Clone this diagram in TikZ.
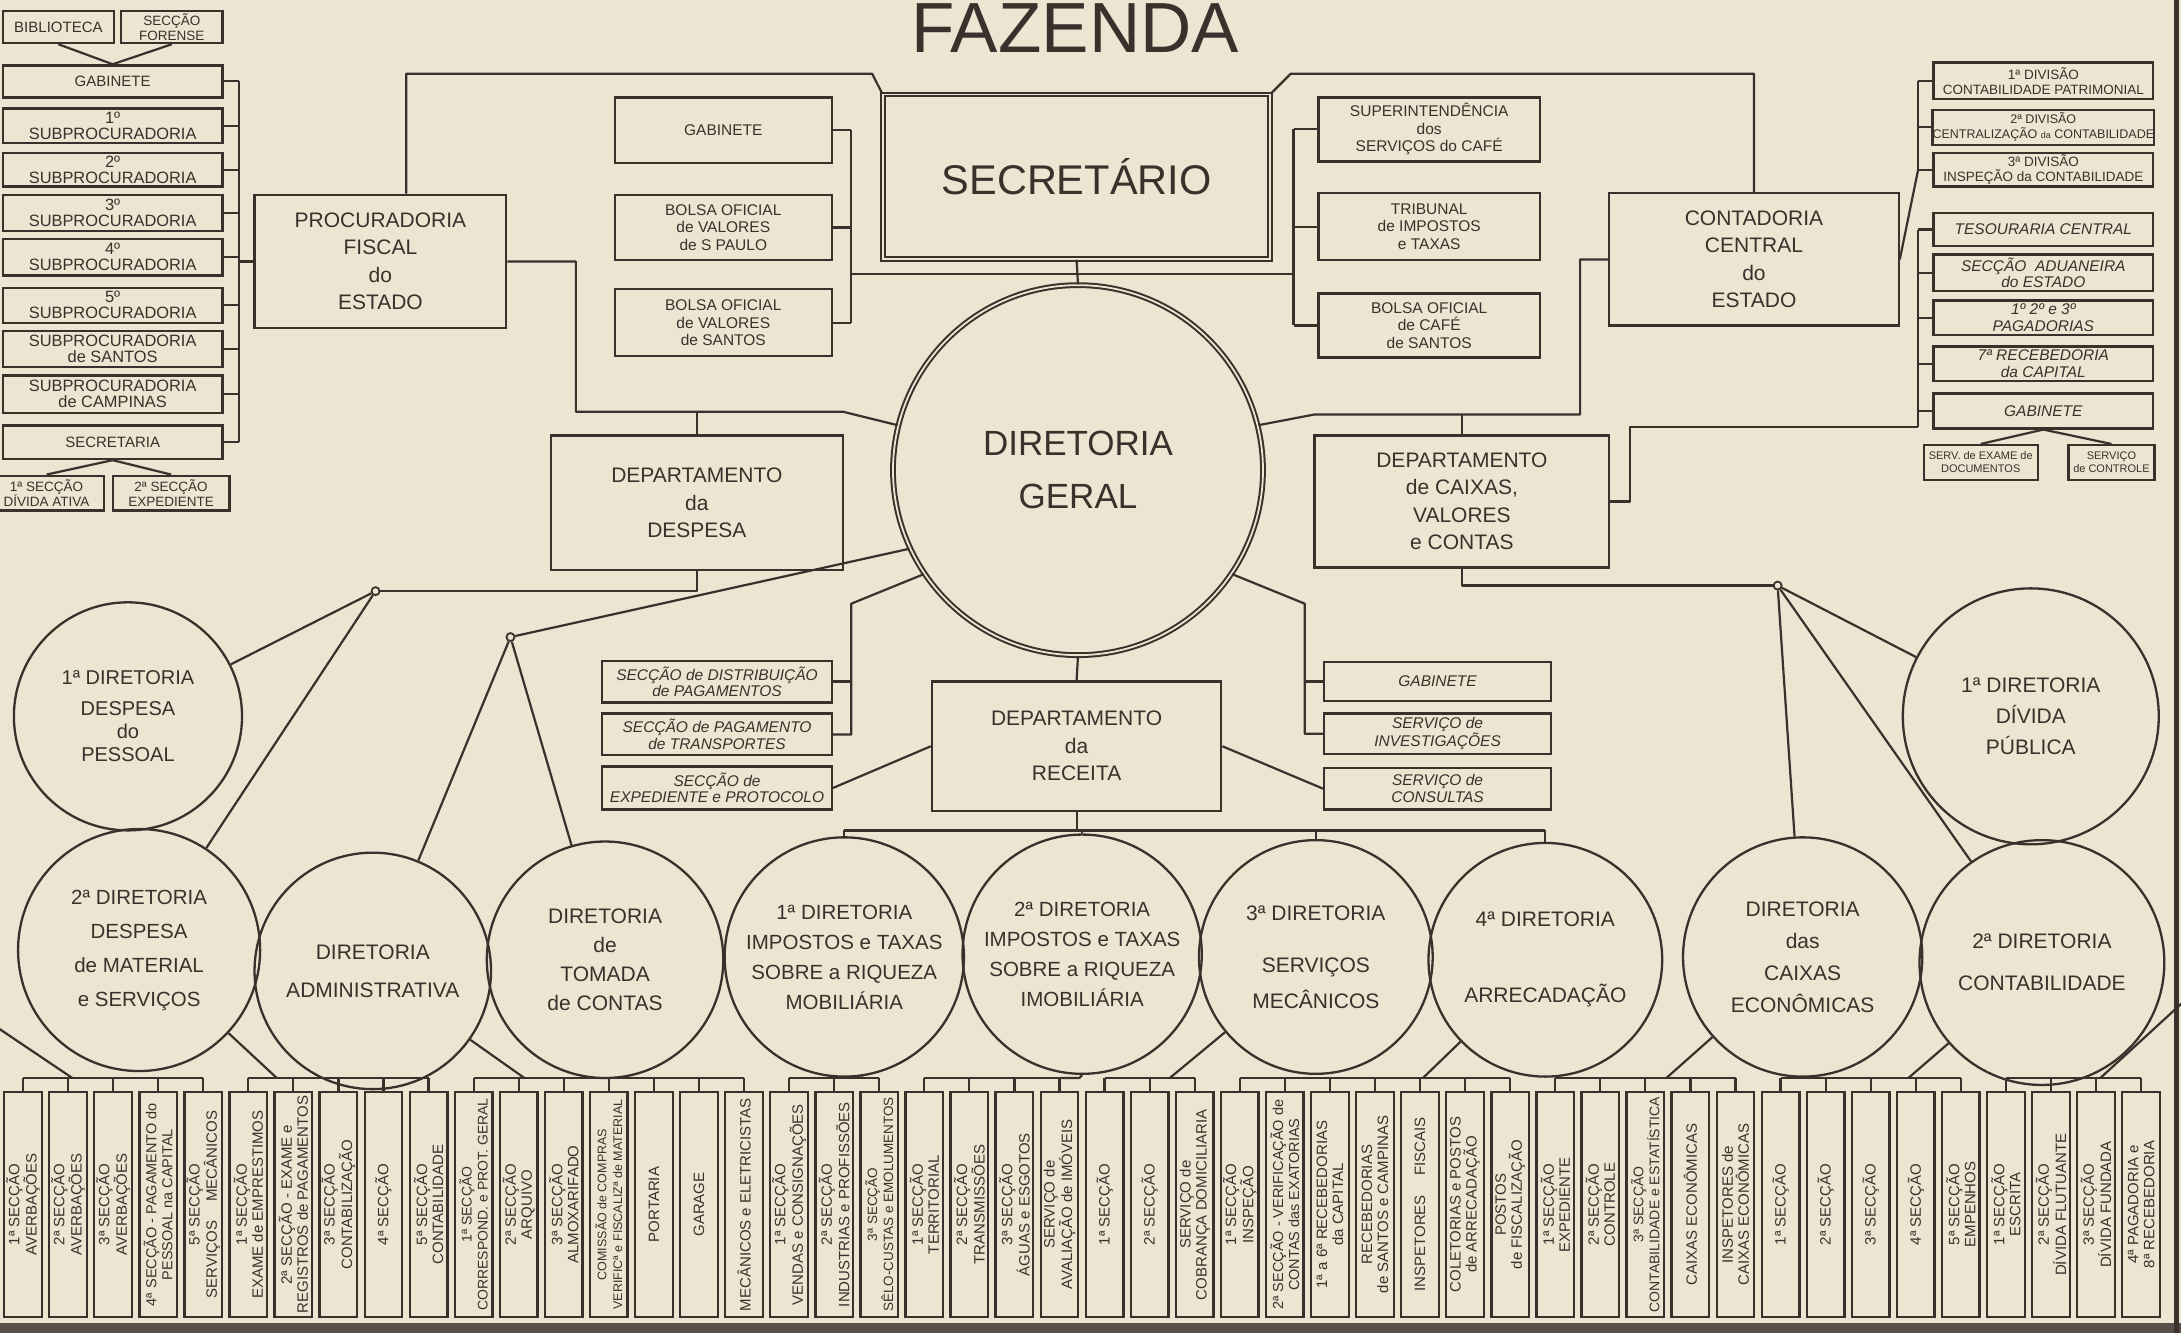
\documentclass[tikz,border=0pt]{standalone}
\usepackage{fontspec}
\setmainfont{Liberation Sans}
\usetikzlibrary{calc}
\definecolor{paper}{HTML}{ECE5D2}
\definecolor{ink}{HTML}{3B302B}
\newcommand\RB[7]{\node[box,#2,minimum width={((#5)-(#3))*1.391pt},minimum height={((#6)-(#4))*1.391pt}] (#1) at ({((#3)+(#5))/2},{((#4)+(#6))/2}) {#7};}
\newcommand\CR[6]{\node[circ,#2,minimum size={2*(#5)*1.391pt}] (#1) at (#3,#4) {#6};}
\newcommand\sda{{\fontsize{9}{9}\selectfont da}}
\tikzset{
 box/.style={draw=ink, line width=2.3pt, inner sep=0pt, align=center, text=ink},
 circ/.style={draw=ink, line width=2.3pt, circle, inner sep=0pt, align=center, text=ink, font=\fontsize{21}{32}\selectfont},
 ln/.style={draw=ink, line width=2.2pt, line join=round},
 sm/.style={font=\fontsize{15}{16}\selectfont},
 sm2/.style={font=\fontsize{13.5}{14.5}\selectfont},
 md/.style={font=\fontsize{16.4}{16}\selectfont},
 big/.style={font=\fontsize{21}{27.5}\selectfont},
 sg/.style={font=\fontsize{15.5}{17.5}\selectfont},
 dv/.style={font=\fontsize{13.5}{15}\selectfont},
 tiny/.style={font=\fontsize{11}{13}\selectfont},
 it/.style={font=\fontsize{15.5}{16.5}\selectfont\itshape},
 vb/.style={box, rotate=90, minimum width=225pt, minimum height=37.6pt},
 jn/.style={circle, draw=ink, line width=1.8pt, fill=paper, inner sep=0pt, minimum size=8pt},
 dbl/.style={double=paper, double distance=1.8pt, line width=2pt},
}
\begin{document}
\begin{tikzpicture}[x=1.391pt,y=-1.391pt]
\fill[paper] (0,0) rectangle (1568,958);
\useasboundingbox (0,0) rectangle (1568,958);

% title
\node[font=\fontsize{71}{71}\selectfont, text=ink, anchor=base, inner sep=0pt] (title) at (773,38) {FAZENDA};

% left column
\RB{lbib}{sm}{2}{8}{82}{31}{BIBLIOTECA}
\RB{lfor}{sm2}{87}{8}{160}{31}{SECÇÃO\\FORENSE}
\RB{lgab}{sm}{2}{47}{160}{70}{GABINETE}
\RB{ls1}{md}{2}{78}{160}{103}{1º\\SUBPROCURADORIA}
\RB{ls2}{md}{2}{110}{160}{134}{2º\\SUBPROCURADORIA}
\RB{ls3}{md}{2}{140}{160}{166}{3º\\SUBPROCURADORIA}
\RB{ls4}{md}{2}{172}{160}{198}{4º\\SUBPROCURADORIA}
\RB{ls5}{md}{2}{207}{160}{232}{5º\\SUBPROCURADORIA}
\RB{lsan}{md}{2}{238}{160}{264}{SUBPROCURADORIA\\de SANTOS}
\RB{lcam}{md}{2}{270}{160}{297}{SUBPROCURADORIA\\de CAMPINAS}
\RB{lsec}{sm}{2}{306}{160}{330}{SECRETARIA}
\RB{lda}{sm2}{-8}{342}{75}{367}{1ª SECÇÃO\\DÍVIDA ATIVA}
\RB{lexp}{sm2}{81}{342}{165}{367}{2ª SECÇÃO\\EXPEDIENTE}

\RB{proc}{big}{183}{140}{364}{236}{PROCURADORIA\\FISCAL\\do\\ESTADO}

% secretario
\RB{sec}{dbl,font=\fontsize{41.5}{42}\selectfont}{635}{68}{913}{186}{SECRETÁRIO}
\RB{sgab}{sg}{442}{70}{598}{117}{GABINETE}
\RB{sbsp}{sg}{442}{140}{598}{187}{BOLSA OFICIAL\\de VALORES\\de S PAULO}
\RB{sbss}{sg}{442}{208}{598}{256}{BOLSA OFICIAL\\de VALORES\\de SANTOS}
\RB{ssup}{sg}{948}{70}{1107}{116}{SUPERINTENDÊNCIA\\dos\\SERVIÇOS do CAFÉ}
\RB{strib}{sg}{948}{139}{1107}{187}{TRIBUNAL\\de IMPOSTOS\\e TAXAS}
\RB{sbcs}{sg}{948}{211}{1107}{257}{BOLSA OFICIAL\\de CAFÉ\\de SANTOS}

\RB{cont}{big}{1157}{139}{1365}{234}{CONTADORIA\\CENTRAL\\do\\ESTADO}

% right column
\RB{dv1}{dv}{1390}{45}{1548}{71}{1ª DIVISÃO\\CONTABILIDADE PATRIMONIAL}
\RB{dv2}{font=\fontsize{12.5}{15}\selectfont}{1390}{79}{1548}{104}{2ª DIVISÃO\\CENTRALIZAÇÃO \sda\ CONTABILIDADE}
\RB{dv3}{dv}{1390}{110}{1548}{134}{3ª DIVISÃO\\INSPEÇÃO da CONTABILIDADE}
\RB{tes}{it}{1390}{153}{1548}{177}{TESOURARIA CENTRAL}
\RB{adu}{it}{1390}{183}{1548}{209}{SECÇÃO \ ADUANEIRA\\do ESTADO}
\RB{pag}{it}{1390}{216}{1548}{241}{1º 2º e 3º\\PAGADORIAS}
\RB{rec}{it}{1390}{249}{1548}{274}{7ª RECEBEDORIA\\da CAPITAL}
\RB{rgab}{it}{1390}{283}{1548}{308}{GABINETE}
\RB{sed}{tiny}{1383}{320}{1465}{345}{SERV. de EXAME de\\DOCUMENTOS}
\RB{sctl}{tiny}{1487}{320}{1549}{345}{SERVIÇO\\de CONTROLE}

% diretoria geral and departments
\CR{dg}{dbl,font=\fontsize{35}{53}\selectfont}{775}{338}{133}{DIRETORIA\\GERAL}
\RB{ddesp}{big}{396}{313}{606}{410}{DEPARTAMENTO\\da\\DESPESA}
\RB{dcx}{big}{945}{313}{1157}{408}{DEPARTAMENTO\\de CAIXAS,\\VALORES\\e CONTAS}
\RB{drec}{big}{670}{490}{878}{583}{DEPARTAMENTO\\da\\RECEITA}

\RB{r1}{it}{433}{475}{598}{505}{SECÇÃO de DISTRIBUIÇÃO\\de PAGAMENTOS}
\RB{r2}{it}{433}{513}{598}{543}{SECÇÃO de PAGAMENTO\\de TRANSPORTES}
\RB{r3}{it}{433}{551}{598}{582}{SECÇÃO de\\EXPEDIENTE e PROTOCOLO}
\RB{q1}{it}{952}{476}{1115}{504}{GABINETE}
\RB{q2}{it}{952}{513}{1115}{542}{SERVIÇO de\\INVESTIGAÇÕES}
\RB{q3}{it}{952}{552}{1115}{582}{SERVIÇO de\\CONSULTAS}

% diretorias
\CR{p1}{font=\fontsize{20}{23}\selectfont}{92}{515}{82}{1ª DIRETORIA\\[8pt]DESPESA\\do\\PESSOAL}
\CR{dp}{font=\fontsize{21}{31}\selectfont}{1460}{515}{92}{1ª DIRETORIA\\DÍVIDA\\PÚBLICA}
\CR{c1}{font=\fontsize{20.5}{34}\selectfont}{100}{683}{87}{2ª DIRETORIA\\DESPESA\\de MATERIAL\\e SERVIÇOS}
\CR{c2}{}{268}{698}{85}{DIRETORIA\\[6pt]ADMINISTRATIVA}
\CR{c3}{font=\fontsize{21}{29}\selectfont}{435}{690}{85}{DIRETORIA\\de\\TOMADA\\de CONTAS}
\CR{c4}{font=\fontsize{20.5}{30}\selectfont}{607}{688}{86}{1ª DIRETORIA\\IMPOSTOS e TAXAS\\SOBRE a RIQUEZA\\MOBILIÁRIA}
\CR{c5}{font=\fontsize{20.5}{30}\selectfont}{778}{686}{86}{2ª DIRETORIA\\IMPOSTOS e TAXAS\\SOBRE a RIQUEZA\\IMOBILIÁRIA}
\CR{c6}{}{946}{688}{84}{3ª DIRETORIA\\[20pt]SERVIÇOS\\[4pt]MECÂNICOS}
\CR{c7}{}{1111}{690}{84}{4ª DIRETORIA\\[44pt]ARRECADAÇÃO}
\CR{c8}{}{1296}{688}{86}{DIRETORIA\\das\\CAIXAS\\ECONÔMICAS}
\CR{c9}{}{1468}{692}{88}{2ª DIRETORIA\\[10pt]CONTABILIDADE}

% bottom row
\foreach \t [count=\i] in {
 {1ª SECÇÃO\\AVERBAÇÕES},{2ª SECÇÃO\\AVERBAÇÕES},{3ª SECÇÃO\\AVERBAÇÕES},
 {4ª SECÇÃO - PAGAMENTO do\\PESSOAL na CAPITAL},{5ª SECÇÃO\\SERVIÇOS \quad MECÂNICOS},
 {1ª SECÇÃO\\EXAME de EMPRESTIMOS},{2ª SECÇÃO - EXAME e\\REGISTROS de PAGAMENTOS},
 {3ª SECÇÃO\\CONTABILIZAÇÃO},{4ª SECÇÃO},{5ª SECÇÃO\\CONTABILIDADE},
 {1ª SECÇÃO\\CORRESPOND. e PROT. GERAL},{2ª SECÇÃO\\ARQUIVO},{3ª SECÇÃO\\ALMOXARIFADO},
 {COMISSÃO de COMPRAS\\VERIFICª e FISCALIZª de MATERIAL},{PORTARIA},{GARAGE},
 {MECÂNICOS e ELETRICISTAS},
 {1ª SECÇÃO\\VENDAS e CONSIGNAÇÕES},{2ª SECÇÃO\\INDUSTRIAS e PROFISSÕES},
 {3ª SECÇÃO\\SÊLO-CUSTAS e EMOLUMENTOS},
 {1ª SECÇÃO\\TERRITORIAL},{2ª SECÇÃO\\TRANSMISSÕES},{3ª SECÇÃO\\ÁGUAS e ESGOTOS},
 {SERVIÇO de\\AVALIAÇÃO de IMÓVEIS},
 {1ª SECÇÃO},{2ª SECÇÃO},{SERVIÇO de\\COBRANÇA DOMICILIARIA},
 {1ª SECÇÃO\\INSPEÇÃO},{2ª SECÇÃO - VERIFICAÇÃO de\\CONTAS das EXATORIAS},
 {1ª a 6ª RECEBEDORIAS\\da CAPITAL},{RECEBEDORIAS\\de SANTOS e CAMPINAS},
 {INSPETORES \quad FISCAIS},{COLETORIAS e POSTOS\\de ARRECADAÇÃO},{POSTOS\\de FISCALIZAÇÃO},
 {1ª SECÇÃO\\EXPEDIENTE},{2ª SECÇÃO\\CONTROLE},{3ª SECÇÃO\\CONTABILIDADE e ESTATÍSTICA},
 {CAIXAS ECONÔMICAS},{INSPETORES de\\CAIXAS ECONÔMICAS},
 {1ª SECÇÃO},{2ª SECÇÃO},{3ª SECÇÃO},{4ª SECÇÃO},{5ª SECÇÃO\\EMPENHOS},
 {1ª SECÇÃO\\ESCRITA},{2ª SECÇÃO\\DÍVIDA FLUTUANTE},{3ª SECÇÃO\\DÍVIDA FUNDADA},
 {4ª PAGADORIA e\\8ª RECEBEDORIA}}
 {\def\fsz{15}%
  \ifnum\i=14 \def\fsz{12.5}\fi
  \ifnum\i=20 \def\fsz{13.5}\fi
  \ifnum\i=37 \def\fsz{14}\fi
  \ifnum\i=11 \def\fsz{14}\fi
  \ifnum\i=4 \def\fsz{14.5}\fi
  \ifnum\i=29 \def\fsz{14.5}\fi
  \node[vb,font=\fontsize{\fsz}{16}\selectfont] (b\i) at ({16.5+(\i-1)*32.4},866) {\t};}

\coordinate (bus) at (0,775);
\foreach \a/\b in {1/5,6/10,11/17,18/20,21/24,25/27,28/34,35/39,40/44,45/48}{
 \draw[ln] (b\a.east |- bus) -- (b\b.east |- bus);
 \foreach \i in {\a,...,\b} \draw[ln] (b\i.east) -- (b\i.east |- bus);
}
\coordinate (gA) at (52,775);  \coordinate (eA) at (-3,738);
\coordinate (gB) at (199,775); \coordinate (gC) at (377,775);
\coordinate (gD) at (620,775); \coordinate (gE) at (776,775);
\coordinate (gF) at (841,775); \coordinate (gG) at (1023,775);
\coordinate (gH) at (1198,775); \coordinate (gI) at (1372,775);
\coordinate (gJ) at (1510,775); \coordinate (eJ) at (1570,720);
\draw[ln] (gA) -- (eA);
\draw[ln] (gB) -- (c1);
\draw[ln] (gC) -- (c2);
\draw[ln] (gD) -- (c4);
\draw[ln] (b24.east |- bus) -- (gE) -- (c5.south);
\draw[ln] (gF) -- (c6);
\draw[ln] (gG) -- (c7);
\draw[ln] (gH) -- (c8);
\draw[ln] (gI) -- (c9);
\draw[ln] (gJ) -- (eJ);

% connectors top
\coordinate (tl1) at (292,53); \coordinate (tl2) at (627,53);
\draw[ln] (proc.north -| tl1) -- (tl1) -- (tl2) -- (sec.north west);
\coordinate (tr1) at (1261,53); \coordinate (tr2) at (928,53);
\draw[ln] (cont.north -| tr1) -- (tr1) -- (tr2) -- (sec.north east);

\coordinate (lb) at (172,0);
\foreach \n in {lgab,ls1,ls2,ls3,ls4,ls5,lsan,lcam,lsec} \draw[ln] (\n.east) -- (\n.east -| lb);
\draw[ln] (lgab.east -| lb) -- (lsec.east -| lb);
\coordinate (lpj) at (172,188);
\draw[ln] (lpj) -- (lpj -| proc.west);
\draw[ln] (lbib.south) -- (lgab.north);
\draw[ln] (lfor.south) -- (lgab.north);
\draw[ln] (lsec.south) -- (lda.north);
\draw[ln] (lsec.south) -- (lexp.north);

\coordinate (sl) at (612,197); \coordinate (sr) at (930,197);
\foreach \n in {sgab,sbsp,sbss} \draw[ln] (\n.east) -- (\n.east -| sl);
\draw[ln] (sgab.east -| sl) -- (sbss.east -| sl);
\foreach \n in {ssup,strib,sbcs} \draw[ln] (\n.west) -- (\n.west -| sr);
\draw[ln] (ssup.west -| sr) -- (sbcs.west -| sr);
\draw[ln] (sl) -- (sr);
\draw[ln] (sec.south) -- (dg.north);

\coordinate (pa) at (414,188); \coordinate (pb) at (414,296); \coordinate (pc) at (606,296);
\draw[ln] (proc.east) -- (proc.east -| pa) -- (pb) -- (pc) -- (dg.166);
\draw[ln] (ddesp.north) -- (ddesp.north |- pb);
\coordinate (ca) at (1136,188); \coordinate (cb) at (1136,298); \coordinate (cc) at (945,298);
\draw[ln] (cont.west) -- (cont.west -| ca) -- (cb) -- (cc) -- (dg.14);
\draw[ln] (dcx.north) -- (dcx.north |- cb);

\coordinate (dvb) at (1379,0);
\foreach \n in {dv1,dv2,dv3,tes,adu,pag,rec,rgab} \draw[ln] (\n.west) -- (\n.west -| dvb);
\draw[ln] (dv1.west -| dvb) -- (dv3.west -| dvb);
\draw[ln] (cont.east) -- (dv3.west -| dvb);
\coordinate (rb) at (1379,307); \coordinate (dxa) at (1172,360);
\draw[ln] (tes.west -| dvb) -- (rb);
\draw[ln] (dcx.east) -- (dcx.east -| dxa) -- (dxa |- rb) -- (rb);
\draw[ln] (rgab.south) -- (sed.north);
\draw[ln] (rgab.south) -- (sctl.north);

% junctions
\node[jn] (j1) at (270,425) {};
\node[jn] (j2) at (367,458) {};
\node[jn] (j3) at (1278,421) {};
\draw[ln] (ddesp.south) -- (ddesp.south |- j1) -- (j1);
\draw[ln] (j1) -- (p1);
\draw[ln] (j1) -- (c1);
\draw[ln] (dg.205) -- (j2);
\draw[ln] (j2) -- (c2);
\draw[ln] (j2) -- (c3);
\draw[ln] (dcx.south) -- (dcx.south |- j3) -- (j3);
\draw[ln] (j3) -- (dp);
\draw[ln] (j3) -- (c9);
\draw[ln] (j3) -- (c8);

% receita
\draw[ln] (dg.south) -- (drec.north);
\coordinate (rbk) at (612,434); \coordinate (qbk) at (938,434);
\draw[ln] (r1.east) -- (r1.east -| rbk);
\draw[ln] (r2.east) -- (r2.east -| rbk) -- (rbk) -- (dg.214);
\draw[ln] (r3.east) -- (drec.west);
\draw[ln] (q1.west) -- (q1.west -| qbk);
\draw[ln] (q2.west) -- (q2.west -| qbk) -- (qbk) -- (dg.-34);
\draw[ln] (q3.west) -- (drec.east);
\coordinate (rbus) at (0,597);
\draw[ln] (drec.south) -- (drec.south |- rbus);
\draw[ln] (c4.north |- rbus) -- (c7.north |- rbus);
\foreach \n in {c4,c5,c6,c7} \draw[ln] (\n.north) -- (\n.north |- rbus);

% page edges
\fill[ink!85] (0,951) rectangle (1568,958);
\draw[ink, line width=5pt] (1565,0) -- (1565,958);
\end{tikzpicture}
\end{document}
